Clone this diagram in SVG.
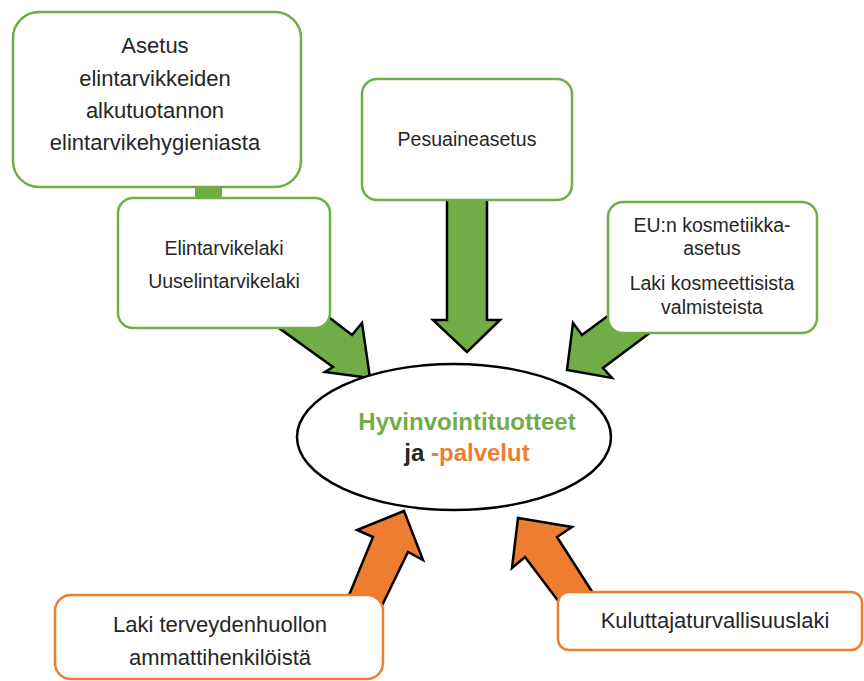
<svg xmlns="http://www.w3.org/2000/svg" width="864" height="681" viewBox="0 0 864 681">
<style>
.g{fill:#fff;stroke:#70AD47;stroke-width:2.5}
.o{fill:#fff;stroke:#ED7D31;stroke-width:2.5}
.ag{fill:#70AD47;stroke:#000;stroke-width:2.5;stroke-linejoin:miter}
.ao{fill:#ED7D31;stroke:#000;stroke-width:2.5;stroke-linejoin:miter}
text{font-family:"Liberation Sans",Arial,sans-serif;fill:#262626;text-anchor:middle}
.t22{font-size:22px}
.t20{font-size:19.5px}
.b{font-size:24px;font-weight:bold}
</style>
<rect width="864" height="681" fill="#fff"/>
<g id="connectors">
<rect x="195" y="186" width="27" height="13" fill="#70AD47"/>
<polygon class="ag" points="447,195 487,195 487,320 500,320 467,352 433,320 447,320"/>
<polygon class="ag" points="300,295 352,335 362,323 370,378 325,372 333,367 240,300"/>
<polygon class="ag" points="651,284 582,335 573,323 567,370 612,378 603,368 691,302"/>
<polygon class="ao" points="345,605 373,537 357,530 404,511 423,560 408,552 376,618"/>
<polygon class="ao" points="600,604 557,537 572,527 518,518 512,568 525,557 565,610"/>
</g>
<g id="node-asetus">
<rect class="g" x="13" y="12" width="288" height="175" rx="26"/>
<text class="t22" x="155" y="53">Asetus</text>
<text class="t22" x="155" y="86">elintarvikkeiden</text>
<text class="t22" x="155" y="118">alkutuotannon</text>
<text class="t22" x="155" y="150">elintarvikehygieniasta</text>
</g>
<g id="node-elintarvikelaki">
<rect class="g" x="118" y="198" width="212" height="130" rx="15"/>
<text class="t20" x="224" y="255">Elintarvikelaki</text>
<text class="t20" x="224" y="288">Uuselintarvikelaki</text>
</g>
<g id="node-pesuaine">
<rect class="g" x="362" y="79" width="210" height="121" rx="15"/>
<text class="t20" x="467" y="146">Pesuaineasetus</text>
</g>
<g id="node-kosmetiikka">
<rect class="g" x="608" y="202" width="209" height="131" rx="15"/>
<text class="t20" x="712" y="232">EU:n kosmetiikka-</text>
<text class="t20" x="712" y="255">asetus</text>
<text class="t20" x="712" y="290">Laki kosmeettisista</text>
<text class="t20" x="712" y="314">valmisteista</text>
</g>
<g id="node-center">
<ellipse cx="454" cy="437" rx="157" ry="73" fill="#fff" stroke="#000" stroke-width="2.5"/>
<text class="b" x="467" y="430" style="fill:#70AD47">Hyvinvointituotteet</text>
<text class="b" x="467" y="461">ja <tspan style="fill:#ED7D31">-palvelut</tspan></text>
</g>
<g id="node-terveydenhuolto">
<rect class="o" x="55" y="595" width="328" height="84" rx="16"/>
<text class="t22" x="220" y="632">Laki terveydenhuollon</text>
<text class="t22" x="220" y="665">ammattihenkilöistä</text>
</g>
<g id="node-kuluttaja">
<rect class="o" x="558" y="592" width="304" height="58" rx="11"/>
<text class="t22" x="715" y="628">Kuluttajaturvallisuuslaki</text>
</g>
</svg>
